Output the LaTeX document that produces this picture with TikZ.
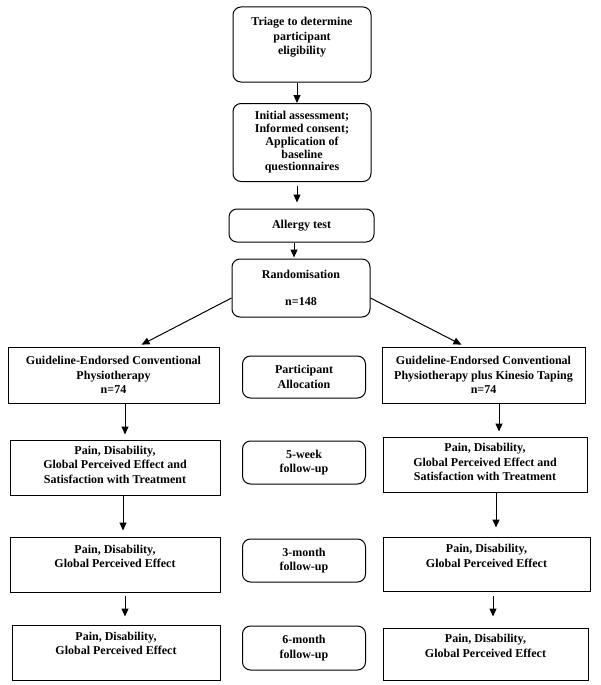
\documentclass[tikz,border=0pt]{standalone}
\usepackage{fontspec}
\setmainfont{Liberation Serif}
\usetikzlibrary{arrows.meta}
\begin{document}
\begin{tikzpicture}[x=1pt,y=-1pt,
  txt/.style={align=center, font=\bfseries\fontsize{12}{14.5}\selectfont},
  box/.style={draw, line width=1pt, txt, inner sep=0pt},
  rbox/.style={box, rounded corners=8pt},
  arr/.style={-{Triangle[length=8pt,width=7pt]}, line width=1pt}]
\useasboundingbox (0,0) rectangle (600,685);

% central column
\node[rbox, minimum width=138pt, minimum height=75pt,
  label={[txt,yshift=7pt]center:Triage to determine\\participant\\eligibility}] (triage) at (302,44.5) {};
\node[rbox, minimum width=138pt, minimum height=78pt, font=\bfseries\fontsize{12}{12.8}\selectfont] (init) at (302,142.5)
  {Initial assessment;\\Informed consent;\\Application of\\baseline\\questionnaires};
\node[rbox, minimum width=145pt, minimum height=33pt] (allergy) at (301.5,225.5) {Allergy test};
\node[rbox, minimum width=138pt, minimum height=58pt] (rand) at (301,288) {Randomisation\\[13pt]n=148};

% middle labels
\node[rbox, minimum width=123pt, minimum height=42pt] (alloc) at (304,377) {Participant\\Allocation};
\node[rbox, minimum width=123pt, minimum height=43pt] (w5) at (304,462.5) {5-week\\follow-up};
\node[rbox, minimum width=123pt, minimum height=43pt] (m3) at (304,560.5) {3-month\\follow-up};
\node[rbox, minimum width=123pt, minimum height=44pt] (m6) at (304,648) {6-month\\follow-up};

% left column
\node[box, minimum width=211pt, minimum height=56pt] (l1) at (113.5,375)
  {Guideline-Endorsed Conventional\\Physiotherapy\\n=74};
\node[box, minimum width=210pt, minimum height=55pt,
  label={[txt,yshift=3pt]center:{Pain, Disability,\\Global Perceived Effect and\\Satisfaction with Treatment}}] (l2) at (115,467.5) {};
\node[box, minimum width=210pt, minimum height=55pt,
  label={[txt,yshift=8pt]center:{Pain, Disability,\\Global Perceived Effect}}] (l3) at (115,564.5) {};
\node[box, minimum width=208pt, minimum height=55pt,
  label={[txt,yshift=9pt]center:{Pain, Disability,\\Global Perceived Effect}}] (l4) at (116,652.5) {};

% right column
\node[box, minimum width=203pt, minimum height=56pt] (r1) at (483.5,375)
  {Guideline-Endorsed Conventional\\Physiotherapy plus Kinesio Taping\\n=74};
\node[box, minimum width=204pt, minimum height=55pt,
  label={[txt,yshift=2.5pt]center:{Pain, Disability,\\Global Perceived Effect and\\Satisfaction with Treatment}}] (r2) at (485,464.5) {};
\node[box, minimum width=207pt, minimum height=54pt,
  label={[txt,yshift=8pt]center:{Pain, Disability,\\Global Perceived Effect}}] (r3) at (486.5,564) {};
\node[box, minimum width=205pt, minimum height=52pt,
  label={[txt,yshift=8pt]center:{Pain, Disability,\\Global Perceived Effect}}] (r4) at (485.5,654) {};

% connectors
\draw[arr] ([xshift=-5pt]triage.south) -- ([xshift=-5pt]init.north);
\draw[arr, shorten <=4pt, shorten >=6pt] ([xshift=-5pt]init.south) -- ([xshift=-4.5pt]allergy.north);
\draw[arr, shorten >=1pt] ([xshift=-7.5pt]allergy.south) -- ([xshift=-7pt]rand.north);
\draw[arr, shorten >=4pt] ([yshift=-10pt]rand.west) -- ([xshift=24.5pt]l1.north);
\draw[arr, shorten >=4pt] ([yshift=-10pt]rand.east) -- ([xshift=-18.5pt]r1.north);

\draw[arr, shorten >=5pt] ([xshift=11.5pt]l1.south) -- ([xshift=10pt]l2.north);
\draw[arr, shorten >=6pt] ([xshift=8pt]l2.south) -- ([xshift=8pt]l3.north);
\draw[arr, shorten <=3pt, shorten >=8pt] ([xshift=10pt]l3.south) -- ([xshift=9pt]l4.north);

\draw[arr, shorten >=5pt] ([xshift=15.5pt]r1.south) -- ([xshift=14pt]r2.north);
\draw[arr, shorten >=9pt] ([xshift=11pt]r2.south) -- ([xshift=9.5pt]r3.north);
\draw[arr, shorten <=4pt, shorten >=11pt] ([xshift=6.5pt]r3.south) -- ([xshift=7.5pt]r4.north);
\end{tikzpicture}
\end{document}
